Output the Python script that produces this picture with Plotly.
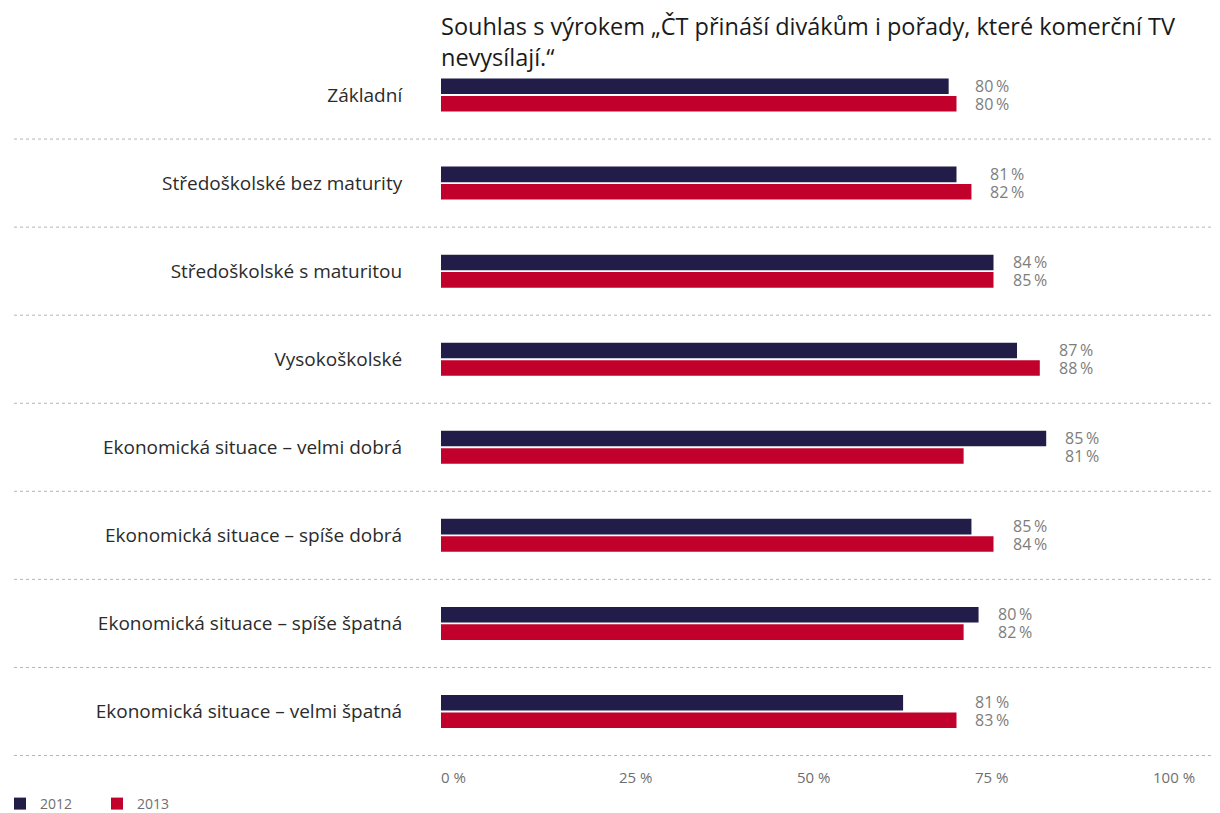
import plotly.graph_objects as go

categories = [
    "Základní",
    "Středoškolské bez maturity",
    "Středoškolské s maturitou",
    "Vysokoškolské",
    "Ekonomická situace – velmi dobrá",
    "Ekonomická situace – spíše dobrá",
    "Ekonomická situace – spíše špatná",
    "Ekonomická situace – velmi špatná",
]
# bar lengths as drawn in the reference (percent of axis)
values_2012 = [71.3, 72.4, 77.6, 80.9, 85.0, 74.5, 75.5, 64.9]
values_2013 = [72.4, 74.5, 77.6, 84.1, 73.4, 77.6, 73.4, 72.4]
# printed value labels
labels_2012 = ["80", "81", "84", "87", "85", "85", "80", "81"]
labels_2013 = ["80", "82", "85", "88", "81", "84", "82", "83"]
tick_vals = [0, 25, 50, 75, 100]
tick_text = ["0 %", "25 %", "50 %", "75 %", "100 %"]
series_names = ["2012", "2013"]
colors = ["#211c48", "#c1002b"]
title_text = "Souhlas s výrokem „ČT přináší divákům i pořady, které komerční TV<br>nevysílají.“"

FONT = "Open Sans"
# page body adds an 8px offset, so the figure is 8px smaller and shifted
OFF = 8
W, H = 1220 - OFF, 813 - OFF
ML, MT = 441 - OFF, 51 - OFF
MB = H - (756 - OFF)
MR = W - (1153 - OFF)
plot_w = W - ML - MR
plot_h = H - MT - MB

fig = go.Figure()
for name, vals, col in zip(series_names, [values_2012, values_2013], colors):
    fig.add_trace(go.Bar(
        y=categories, x=vals, name=name, orientation="h",
        marker=dict(color=col, line=dict(width=0)),
        hoverinfo="skip",
    ))

annotations = []
for i, cat in enumerate(categories):
    xm = max(values_2012[i], values_2013[i])
    for lab, ys in ((labels_2012[i], 9), (labels_2013[i], -9)):
        annotations.append(dict(
            x=xm, y=cat, xref="x", yref="y", xanchor="left", yanchor="middle",
            xshift=17, yshift=ys, showarrow=False,
            text=lab + "\u2009%", font=dict(family=FONT, size=16, color="#7d7d7d"),
        ))

for tv, tt in zip(tick_vals, tick_text):
    annotations.append(dict(
        x=tv, y=0, xref="x", yref="paper", xanchor="left", yanchor="top",
        xshift=-2, yshift=-9, showarrow=False, text=tt,
        font=dict(family=FONT, size=15, color="#6f6f6f"),
    ))

annotations.append(dict(
    x=0, y=(plot_h + MT) / plot_h, xref="paper", yref="paper",
    xanchor="left", yanchor="top", xshift=-2, showarrow=False, align="left",
    text=title_text, font=dict(family=FONT, size=23.5, color="#1a1a1a"),
))

shapes = []
x_left = (14 - OFF - ML) / plot_w
x_right = (W - ML) / plot_w
for i in range(len(categories)):
    shapes.append(dict(
        type="line", xref="paper", yref="y",
        x0=x_left, x1=x_right, y0=i + 0.5, y1=i + 0.5,
        line=dict(color="#b5b5b5", width=1, dash="dot"),
    ))

fig.update_layout(
    width=W, height=H,
    margin=dict(l=ML, r=MR, t=MT, b=MB, pad=0, autoexpand=False),
    paper_bgcolor="white", plot_bgcolor="white",
    barmode="group", bargap=0.603, bargroupgap=0.11,
    xaxis=dict(
        range=[0, 100], showgrid=False, zeroline=False, showline=False,
        showticklabels=False, ticks="", fixedrange=True, automargin=False,
    ),
    yaxis=dict(
        autorange="reversed", showgrid=False, zeroline=False, showline=False,
        ticks="outside", ticklen=34, tickcolor="rgba(0,0,0,0)", automargin=False,
        tickfont=dict(family=FONT, size=19, color="#2b2b2b"),
    ),
    legend=dict(
        orientation="h", xref="paper", yref="container",
        x=(-8 - ML) / plot_w, xanchor="left", y=1 - (804 - OFF) / H, yanchor="middle",
        font=dict(family=FONT, size=14, color="#6f6f6f"),
        traceorder="normal", entrywidth=52, itemclick=False,
    ),
    annotations=annotations, shapes=shapes,
)

fig.write_html("out.html")
